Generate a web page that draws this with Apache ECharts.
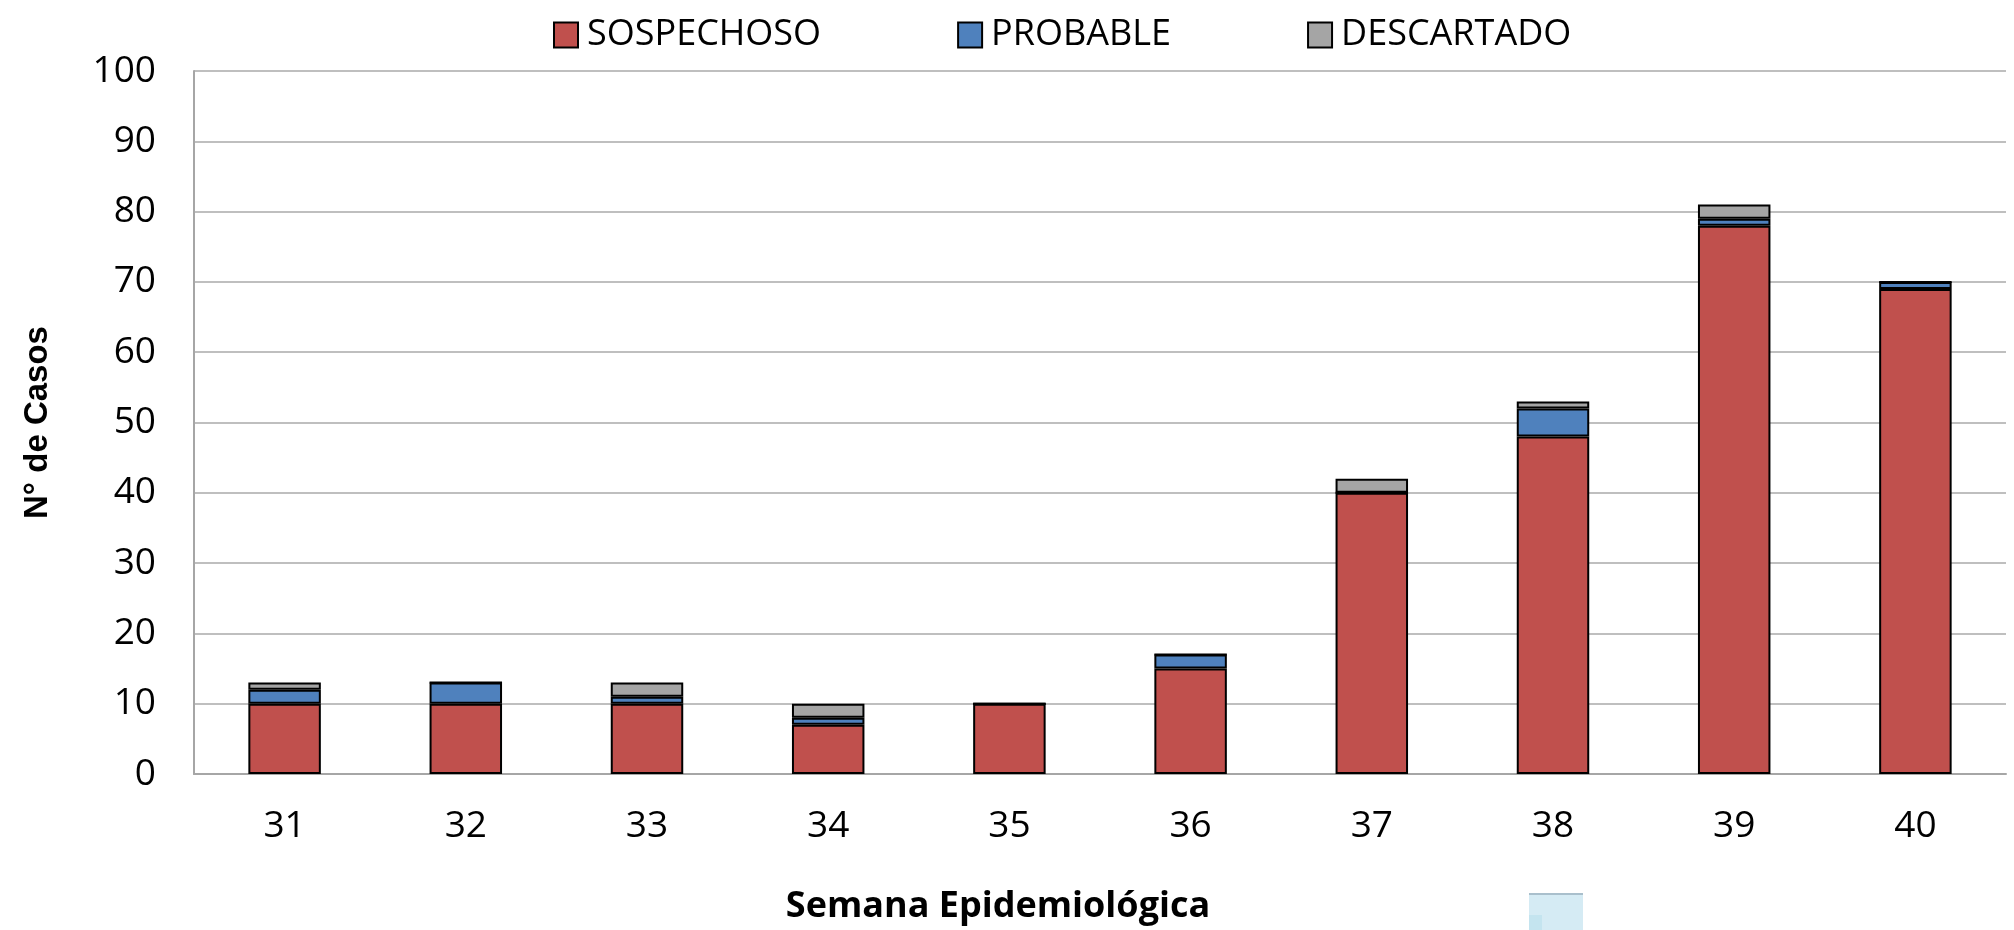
<!DOCTYPE html>
<html>
<head>
<meta charset="utf-8">
<script src="https://cdn.jsdelivr.net/npm/echarts@6/dist/echarts.min.js"></script>
<style>
html,body{margin:0;padding:0;background:#fff;}
#chart{width:2014px;height:930px;}
</style>
</head>
<body>
<div id="chart"></div>
<script>
const categories = ['31','32','33','34','35','36','37','38','39','40'];
const sospechoso = [10,10,10,7,10,15,40,48,78,69];
const probable   = [2,3,1,1,0,2,0,4,1,1];
const descartado = [1,0,2,2,0,0,2,1,2,0];
const yTicks = {min:0, max:100, interval:10};

const FONT = '"Open Sans", "Noto Sans", sans-serif';
const chart = echarts.init(document.getElementById('chart'));

function mk(name, data, color){
  return {
    name, type:'bar', stack:'total', data,
    barWidth:'40%',
    itemStyle:{color, borderColor:'#000', borderWidth:2},
    emphasis:{disabled:true}
  };
}

chart.setOption({
  animation:false,
  backgroundColor:'#fff',
  textStyle:{fontFamily:FONT},
  legend:{
    left:548, top:12,
    itemWidth:24, itemHeight:25, itemGap:136,
    icon:'rect',
    textStyle:{fontSize:36, color:'#000', fontFamily:FONT, padding:[0,0,0,4]},
    data:['SOSPECHOSO','PROBABLE','DESCARTADO'],
    itemStyle:{borderColor:'#000', borderWidth:2}
  },
  grid:{left:194, right:8, top:71, bottom:152, containLabel:false},
  xAxis:{
    type:'category', data:categories,
    name:'Semana Epidemiológica', nameLocation:'middle', nameGap:115,
    nameTextStyle:{fontSize:36, fontWeight:'bold', color:'#000', fontFamily:FONT, padding:[0,204,0,0]},
    axisLine:{lineStyle:{color:'#a6a6a6', width:2}},
    axisTick:{show:false},
    axisLabel:{fontSize:37, color:'#000', margin:34, fontFamily:FONT}
  },
  yAxis:{
    type:'value', min:yTicks.min, max:yTicks.max, interval:yTicks.interval,
    name:'N° de Casos', nameLocation:'middle', nameGap:140,
    nameTextStyle:{fontSize:33, fontWeight:'bold', color:'#000', fontFamily:'"Liberation Sans", Arial, sans-serif'},
    axisLine:{show:true, lineStyle:{color:'#a6a6a6', width:2}},
    axisTick:{show:false},
    splitLine:{lineStyle:{color:'#bfbfbf', width:2}},
    axisLabel:{fontSize:37, color:'#000', margin:38, fontFamily:FONT}
  },
  series:[
    mk('SOSPECHOSO', sospechoso, '#C0504D'),
    mk('PROBABLE', probable, '#4F81BD'),
    mk('DESCARTADO', descartado, '#A5A5A5')
  ],
  graphic:[
    {type:'rect', shape:{x:1529, y:893, width:54, height:37}, style:{fill:'#D5EBF4'}},
    {type:'rect', shape:{x:1529, y:893, width:54, height:2}, style:{fill:'#a9bfcc'}},
    {type:'rect', shape:{x:1529, y:915, width:13, height:15}, style:{fill:'#c4e4ef'}}
  ]
});
</script>
</body>
</html>
